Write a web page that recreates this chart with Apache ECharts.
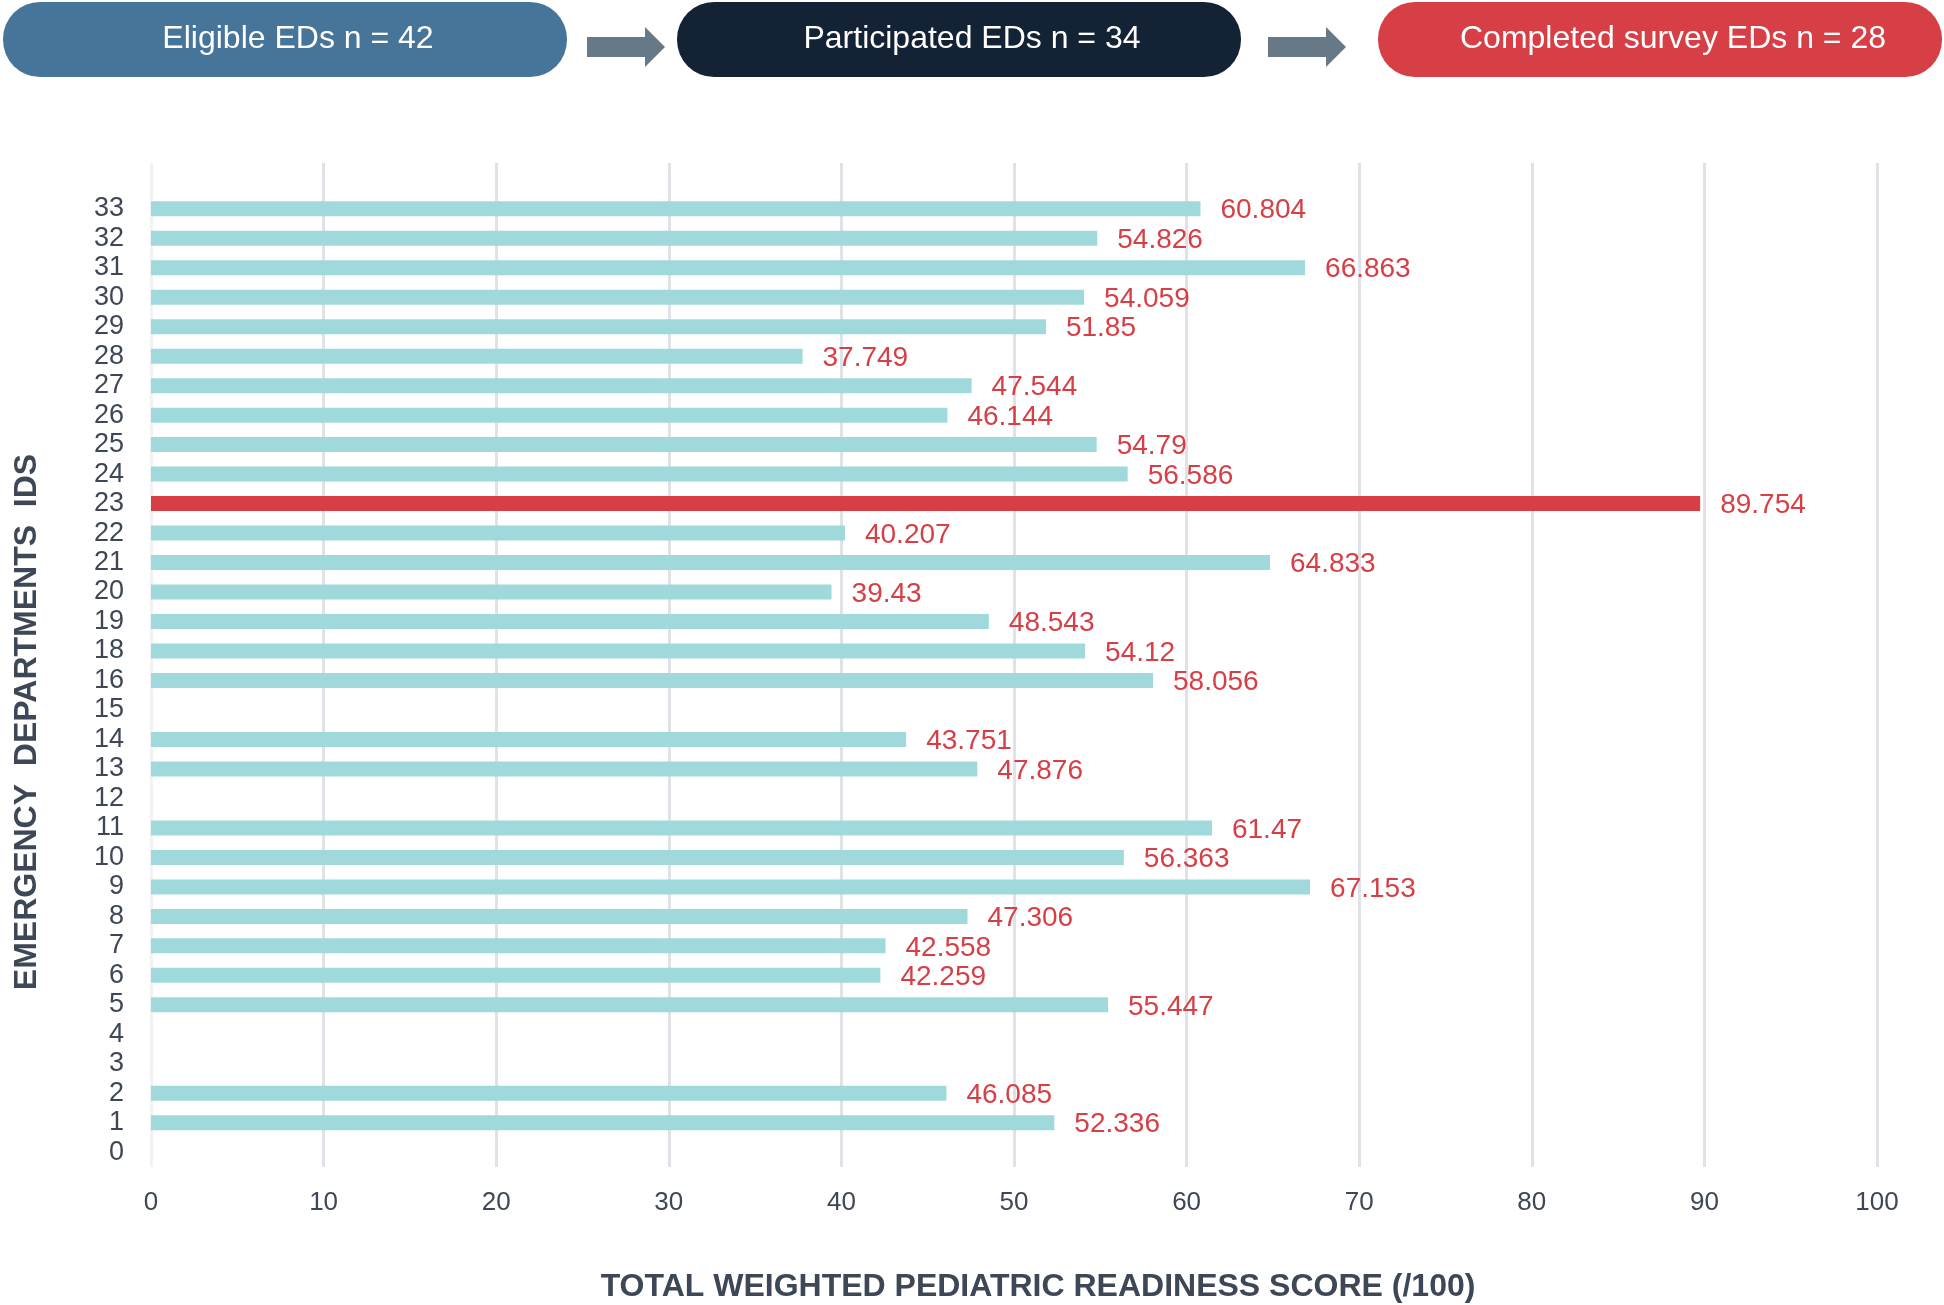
<!DOCTYPE html>
<html>
<head>
<meta charset="utf-8">
<script src="https://cdn.jsdelivr.net/npm/echarts@6/dist/echarts.min.js"></script>
<style>
html,body{margin:0;padding:0;background:#fff;}
#chart{width:1944px;height:1305px;}
</style>
</head>
<body>
<div id="chart"></div>
<script>
// ---- data ----
const edIds = ['0','1','2','3','4','5','6','7','8','9','10','11','12','13','14','15','16',
  '18','19','20','21','22','23','24','25','26','27','28','29','30','31','32','33'];
const scores = [null,52.336,46.085,null,null,55.447,42.259,42.558,47.306,67.153,56.363,61.47,null,47.876,43.751,null,58.056,
  54.12,48.543,39.43,64.833,40.207,89.754,56.586,54.79,46.144,47.544,37.749,51.85,54.059,66.863,54.826,60.804];
const highlightId = '23';
const xTicks = [0,10,20,30,40,50,60,70,80,90,100];
const stageLabels = ['Eligible EDs n = 42','Participated EDs n = 34','Completed survey EDs n = 28'];
const xTitle = 'TOTAL WEIGHTED PEDIATRIC READINESS SCORE (/100)';
const yTitle = 'EMERGENCY  DEPARTMENTS  IDS';

// ---- styles ----
const FONT = '"Liberation Sans", Arial, Helvetica, sans-serif';
const TEXT = '#3E4756';
const TEAL = '#A0D9DB';
const RED = '#D63F45';
const stageColors = ['#477599','#142235','#D63F45'];

const barData = edIds.map((id,i)=>({
  value: scores[i],
  itemStyle: {color: id===highlightId ? RED : TEAL}
}));

const splitColors = xTicks.map((t,i)=> i===0 ? '#F1F2F4' : '#DFE2E6');

const pillX = [3, 677, 1378];
const pillW = 564;
const graphics = [];
stageLabels.forEach((lab,i)=>{
  graphics.push({type:'rect', shape:{x:pillX[i], y:2, width:pillW, height:75, r:37}, style:{fill:stageColors[i]}});
  graphics.push({type:'text', x:pillX[i]+pillW/2+13, y:39, style:{text:lab, fill:'#fff', fontSize:32, fontFamily:FONT, align:'center', verticalAlign:'middle'}});
});
[587, 1268].forEach(x0=>{
  graphics.push({type:'polygon', shape:{points:[[x0,37],[x0+58,37],[x0+58,27],[x0+78,47],[x0+58,67],[x0+58,57],[x0,57]]}, style:{fill:'#677886'}});
});
graphics.push({type:'text', x:1038, y:1287, style:{text:xTitle, fill:TEXT, fontSize:32, fontWeight:'bold', fontFamily:FONT, align:'center', verticalAlign:'middle'}});
graphics.push({type:'text', x:27, y:722, rotation:Math.PI/2, style:{text:yTitle, fill:TEXT, fontSize:32, fontWeight:'bold', fontFamily:FONT, align:'center', verticalAlign:'middle'}});

const chart = echarts.init(document.getElementById('chart'), null, {renderer:'canvas'});
chart.setOption({
  backgroundColor:'#fff',
  animation:false,
  grid:[
    {left:151, right:67, top:163, bottom:138},
    {left:151, right:67, top:194, height:973}
  ],
  xAxis:[
    {gridIndex:0, type:'value', min:0, max:100, interval:10,
     axisLine:{show:false}, axisTick:{show:false},
     axisLabel:{fontSize:26, color:TEXT, fontFamily:FONT, margin:23},
     splitLine:{show:true, lineStyle:{color:splitColors, width:3}}},
    {gridIndex:1, type:'value', min:0, max:100, show:false}
  ],
  yAxis:[
    {gridIndex:0, type:'value', show:false, splitLine:{show:false}},
    {gridIndex:1, type:'category', data:edIds,
     axisLine:{show:false}, axisTick:{show:false}, splitLine:{show:false},
     axisLabel:{interval:0, fontSize:27, color:TEXT, fontFamily:FONT, margin:27}}
  ],
  series:[{
    type:'bar', xAxisIndex:1, yAxisIndex:1, data:barData, barWidth:15,
    label:{show:true, position:'right', distance:20, offset:[0,2], color:RED, fontSize:28, fontFamily:FONT,
      formatter:p=> p.value==null ? '' : String(p.value)}
  }],
  graphic:graphics
});
</script>
</body>
</html>
